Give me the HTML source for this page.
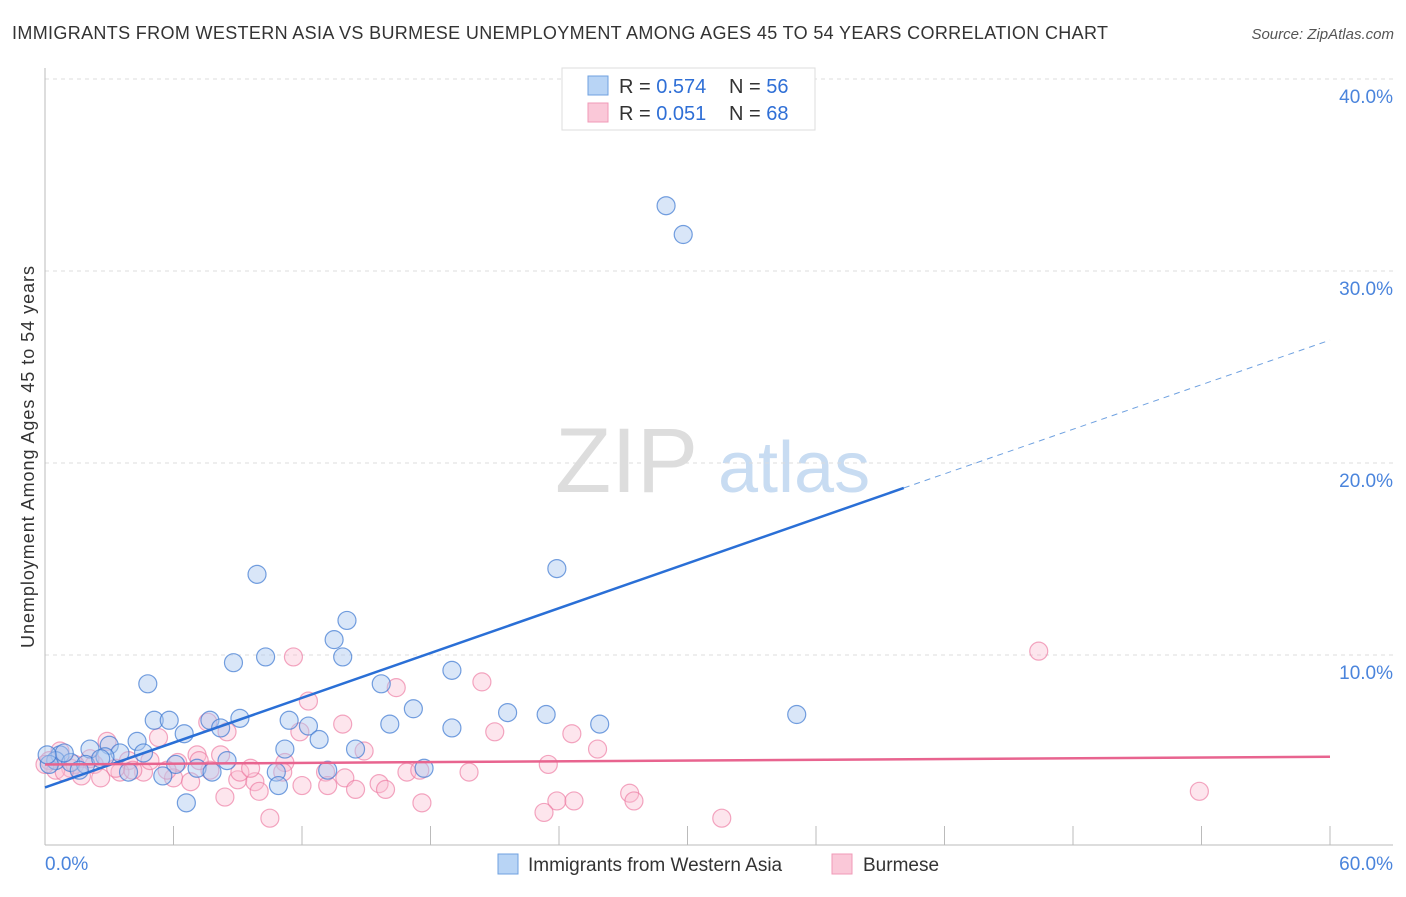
<!DOCTYPE html>
<html><head><meta charset="utf-8"><style>
body{margin:0;background:#fff;font-family:"Liberation Sans",sans-serif;}
svg text{font-family:"Liberation Sans",sans-serif;}
</style></head><body>
<svg id="chart" width="1406" height="892">
<text x="12" y="39" font-size="18" fill="#333" textLength="1096">IMMIGRANTS FROM WESTERN ASIA VS BURMESE UNEMPLOYMENT AMONG AGES 45 TO 54 YEARS CORRELATION CHART</text>
<text x="1394" y="39" font-size="15" fill="#555" font-style="italic" text-anchor="end">Source: ZipAtlas.com</text>
<text x="34" y="457" font-size="18" fill="#333" text-anchor="middle" textLength="382" transform="rotate(-90 34 457)">Unemployment Among Ages 45 to 54 years</text>
<text x="555" y="492" font-size="92" fill="#ddd" font-family="Liberation Serif">ZIP</text>
<text x="718" y="492" font-size="72" fill="#c8dcf2">atlas</text>
<g id="grid"></g><g id="axes"></g><g id="pts"></g><g id="lines"></g>
<rect x="562" y="68" width="253" height="62" fill="#fff" stroke="#ddd"/>
<rect x="588" y="76" width="20" height="19" fill="#b8d4f5" stroke="#6fa1e0"/>
<rect x="588" y="103" width="20" height="19" fill="#fac8d8" stroke="#f09ab7"/>
<text x="619" y="93" font-size="20" fill="#333">R = <tspan fill="#2f6fd6">0.574</tspan></text>
<text x="729" y="93" font-size="20" fill="#333">N = <tspan fill="#2f6fd6">56</tspan></text>
<text x="619" y="120" font-size="20" fill="#333">R = <tspan fill="#2f6fd6">0.051</tspan></text>
<text x="729" y="120" font-size="20" fill="#333">N = <tspan fill="#2f6fd6">68</tspan></text>
<rect x="498" y="854" width="20" height="20" fill="#b8d4f5" stroke="#6fa1e0"/>
<text x="528" y="871" font-size="19" fill="#333">Immigrants from Western Asia</text>
<rect x="832" y="854" width="20" height="20" fill="#fac8d8" stroke="#f09ab7"/>
<text x="863" y="871" font-size="19" fill="#333">Burmese</text>
</svg>
<script>
const yTicks=[10,20,30,40];
const yTickLabels=["10.0%","20.0%","30.0%","40.0%"];
const xTickLabels=["0.0%","60.0%"];
const blueX=[29.0,29.8,23.9,9.9,14.1,13.5,10.3,13.9,8.8,4.8,19.0,15.7,21.6,23.4,35.1,17.2,25.9,5.1,5.8,7.7,9.1,11.4,12.3,16.1,19.0,6.5,8.2,12.8,4.3,3.0,2.1,3.5,4.6,11.2,14.5,8.5,2.8,0.7,0.5,0.2,1.2,1.9,6.1,7.1,7.8,10.8,13.2,17.7,3.9,5.5,10.9,6.6,0.9,2.6,0.1,1.6];
const blueY=[33.4,31.9,14.5,14.2,11.8,10.8,9.9,9.9,9.6,8.5,9.2,8.5,7.0,6.9,6.9,7.2,6.4,6.6,6.6,6.6,6.7,6.6,6.3,6.4,6.2,5.9,6.2,5.6,5.5,5.3,5.1,4.9,4.9,5.1,5.1,4.5,4.7,4.8,4.5,4.3,4.4,4.3,4.3,4.1,3.9,3.9,4.0,4.1,3.9,3.7,3.2,2.3,4.9,4.6,4.8,4.0];
const pinkX=[46.4,11.6,20.4,16.4,12.3,13.9,21.0,24.6,8.5,7.6,11.9,14.9,25.8,2.9,5.3,7.1,0.7,8.2,23.5,6.2,3.9,2.3,1.2,11.2,13.1,16.9,19.8,4.6,3.5,6.0,9.0,9.8,6.8,11.1,14.0,15.6,12.0,13.2,10.0,14.5,15.9,8.4,23.9,24.7,27.3,27.5,17.6,23.3,31.6,10.5,53.9,0.2,0.5,2.1,1.4,4.9,7.7,9.1,3.3,1.7,0.9,2.6,5.7,0.0,4.1,7.2,9.6,17.5];
const pinkY=[10.2,9.9,8.6,8.3,7.6,6.4,6.0,5.9,6.0,6.5,6.0,5.0,5.1,5.5,5.7,4.8,5.0,4.8,4.3,4.4,4.5,4.3,4.1,4.4,3.9,3.9,3.9,3.9,3.9,3.6,3.5,3.4,3.4,3.9,3.6,3.3,3.2,3.2,2.9,3.0,3.0,2.6,2.4,2.4,2.8,2.4,2.3,1.8,1.5,1.5,2.9,4.5,4.0,4.6,4.3,4.5,4.0,3.9,4.1,3.7,3.9,3.6,4.0,4.3,4.0,4.5,4.1,4.0];
const blueTrend=[[0,3.1],[40.1,18.7],[60,26.4]];
const pinkTrend=[[0,4.3],[60,4.7]];
const xs=v=>45+v/60*1285, ys=v=>847-v*19.2;
const NS="http://www.w3.org/2000/svg";
function mk(p,t,a){const e=document.createElementNS(NS,t);for(const k in a)e.setAttribute(k,a[k]);p.appendChild(e);return e;}
const grid=document.getElementById('grid'),axes=document.getElementById('axes'),pts=document.getElementById('pts'),lines=document.getElementById('lines');
yTicks.forEach((t,i)=>{
 const l=mk(grid,'line',{x1:45,x2:1393,y1:ys(t),y2:ys(t),stroke:'#ddd','stroke-dasharray':'4,4'});
 
 
 const tx=mk(grid,'text',{x:1393,y:ys(t)+24,'font-size':19,fill:'#4a84dc','text-anchor':'end'});tx.textContent=yTickLabels[i];
 
 
});
const ax=mk(axes,'line',{x1:45,x2:1393,y1:845,y2:845,stroke:'#bbb'});


const ay=mk(axes,'line',{x1:45,x2:45,y1:68,y2:845,stroke:'#bbb'});


for(let i=1;i<=10;i++){const t=mk(axes,'line',{x1:xs(i*6),x2:xs(i*6),y1:826,y2:845,stroke:'#bbb'});
 
 }
[[0,'start',45],[60,'end',1393]].forEach((d,i)=>{const t=mk(axes,'text',{x:d[2],y:870,'font-size':19,fill:'#4a84dc','text-anchor':d[1]});t.textContent=xTickLabels[i];
 
 });
function dots(X,Y,fill,stroke,name){X.forEach((x,i)=>{const c=mk(pts,'circle',{cx:xs(x),cy:ys(Y[i]),r:9,fill:fill,stroke:stroke,'stroke-width':1.2});
 
 });}
dots(pinkX,pinkY,'rgba(250,190,210,0.4)','rgba(236,120,160,0.65)','burmese-point');
dots(blueX,blueY,'rgba(170,200,240,0.45)','rgba(60,120,210,0.7)','western-asia-point');
const b1=mk(lines,'line',{x1:xs(blueTrend[0][0]),y1:ys(blueTrend[0][1]),x2:xs(blueTrend[1][0]),y2:ys(blueTrend[1][1]),stroke:'#2a6fd6','stroke-width':2.5});


const b2=mk(lines,'line',{x1:xs(blueTrend[1][0]),y1:ys(blueTrend[1][1]),x2:xs(blueTrend[2][0]),y2:ys(blueTrend[2][1]),stroke:'#6fa1e0','stroke-width':1,'stroke-dasharray':'6,5'});


const p1=mk(lines,'line',{x1:xs(pinkTrend[0][0]),y1:ys(pinkTrend[0][1]),x2:xs(pinkTrend[1][0]),y2:ys(pinkTrend[1][1]),stroke:'#e8648f','stroke-width':2.5});


</script>
</body></html>
